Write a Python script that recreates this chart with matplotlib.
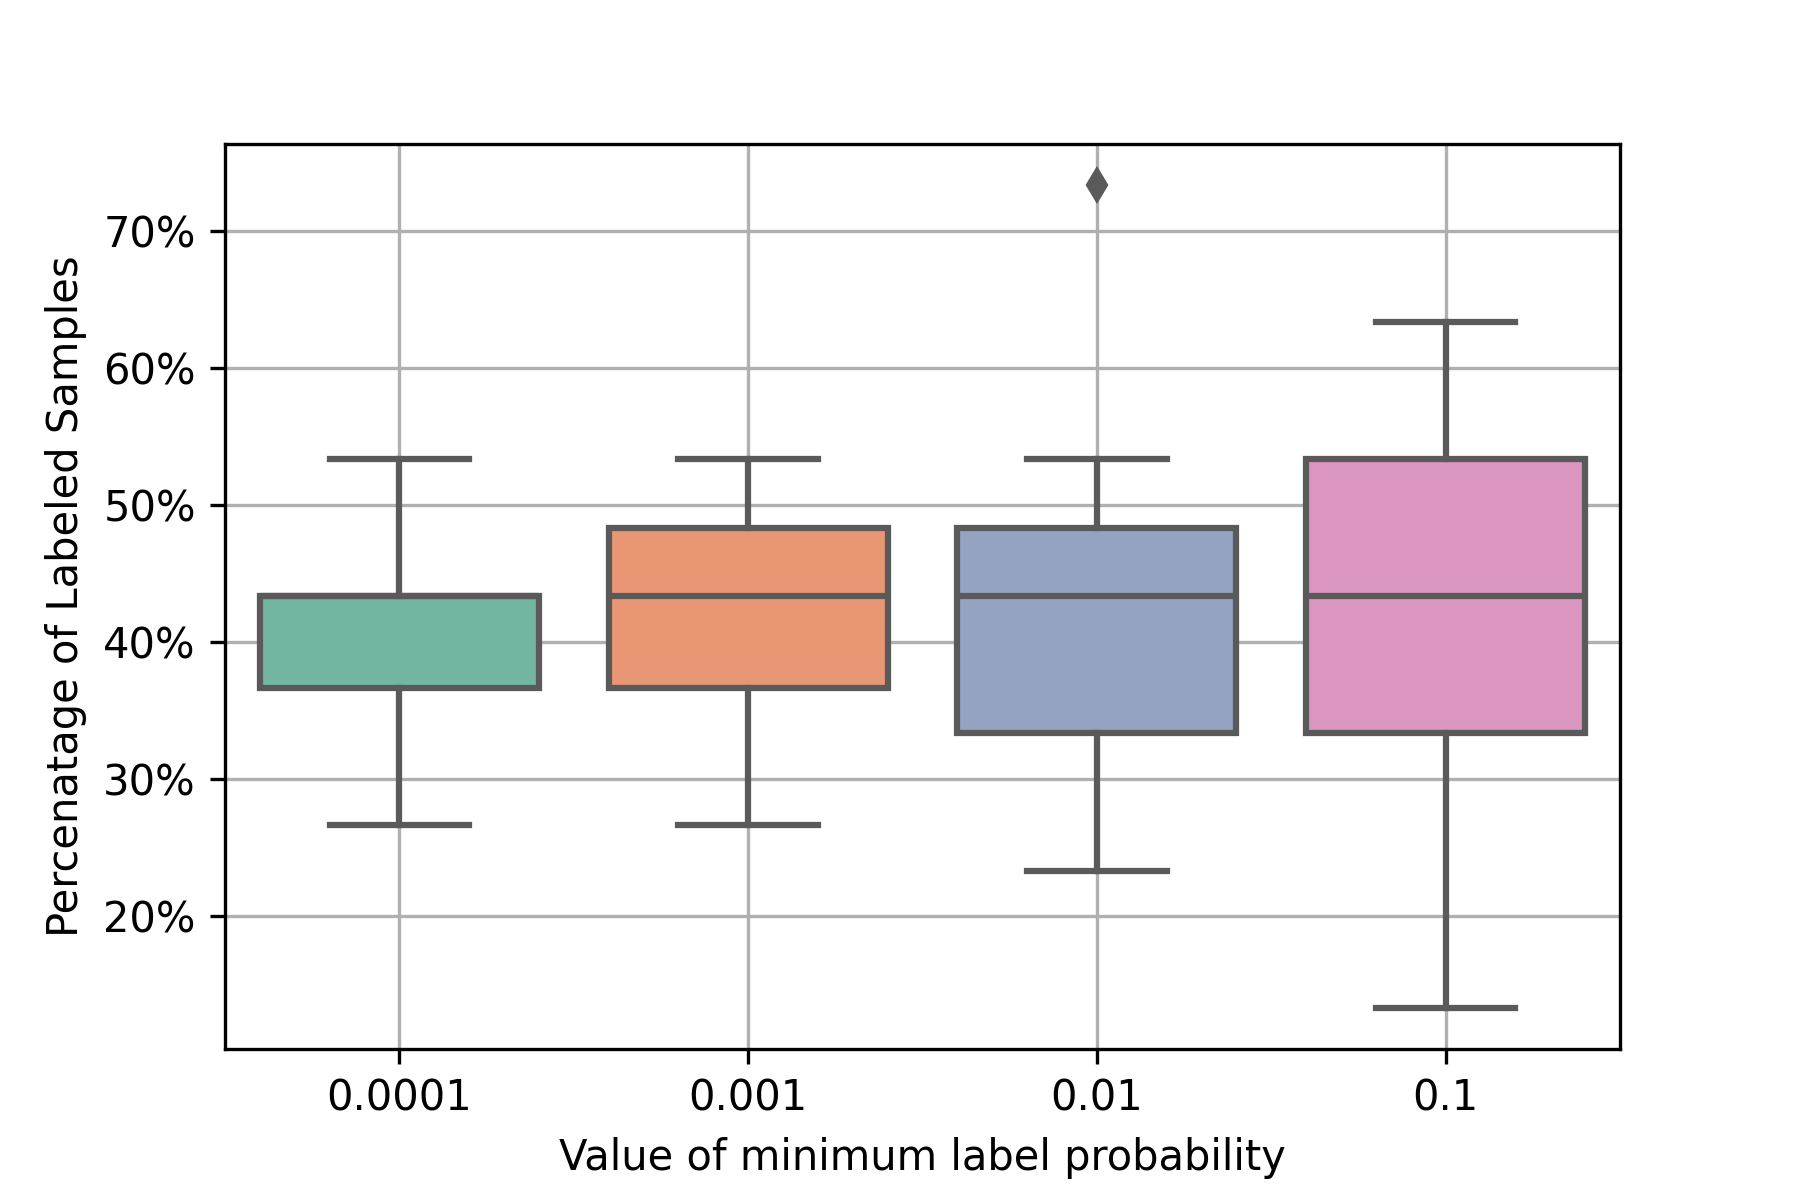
import matplotlib
matplotlib.use("Agg")
import matplotlib.pyplot as plt
from matplotlib.ticker import PercentFormatter
import seaborn as sns

# five-number summaries (percent)
probs = ["0.0001", "0.001", "0.01", "0.1"]
whislo = [26.67, 26.67, 23.33, 13.33]
q1 = [36.67, 36.67, 33.33, 33.33]
med = [43.33, 43.33, 43.33, 43.33]
q3 = [43.33, 48.33, 48.33, 53.33]
whishi = [53.33, 53.33, 53.33, 63.33]
fliers = [[], [], [73.33], []]

gray = "#5a5a5a"
colors = [sns.desaturate(c, 0.75) for c in sns.color_palette("Set2", 4)]

stats = []
for i in range(len(probs)):
    stats.append(dict(label=probs[i], whislo=whislo[i], q1=q1[i], med=med[i],
                      q3=q3[i], whishi=whishi[i], fliers=fliers[i]))

fig, ax = plt.subplots(figsize=(6, 4), dpi=300)
fig.subplots_adjust(bottom=0.126, top=0.88)
pos = list(range(len(probs)))
bp = ax.bxp(stats, positions=pos, widths=0.8, patch_artist=True,
            boxprops=dict(edgecolor=gray, linewidth=1.5),
            medianprops=dict(color=gray, linewidth=1.5),
            whiskerprops=dict(color=gray, linewidth=1.5),
            capprops=dict(color=gray, linewidth=1.5),
            flierprops=dict(marker="d", markerfacecolor=gray, markeredgecolor=gray,
                            markersize=5),
            capwidths=0.4)
for patch, c in zip(bp["boxes"], colors):
    patch.set_facecolor(c)

ax.set_xlim(-0.5, len(probs) - 0.5)
ax.set_xticks(pos)
ax.set_xticklabels(probs)
ax.yaxis.set_major_formatter(PercentFormatter(decimals=0))
ax.grid(True)
ax.set_xlabel("Value of minimum label probability")
ax.set_ylabel("Percenatage of Labeled Samples")

fig.savefig("out.png", dpi=300)
